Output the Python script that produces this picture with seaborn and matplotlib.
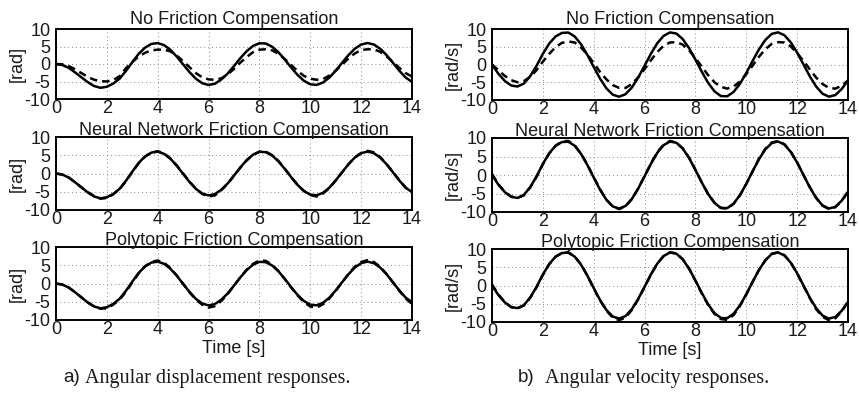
import numpy as np
import pandas as pd
import matplotlib
matplotlib.use("Agg")
import matplotlib.pyplot as plt
import seaborn as sns

time = np.arange(0, 14.001, 0.25)

disp_ref = [0, -0.3, -1.1, -2.4, -3.8, -5.2, -6.3, -6.8, -6.5, -5.6, -4.2, -2.0, 0.5, 2.9, 4.66,
            5.73, 5.98, 5.39, 4.04, 2.11, -0.11, -2.32, -4.20, -5.49, -6.0, -5.63, -4.44, -2.73,
            -0.57, 1.68, 3.68, 5.17, 5.93, 5.85, 4.93, 3.33, 1.24, -1.02, -3.13, -4.80, -5.79,
            -5.97, -5.29, -3.88, -1.90, 0.34, 2.52, 4.37, 5.56, 6.0, 5.57, 4.36, 2.53, 0.34,
            -1.90, -3.87, -5.1]
disp_nofric = [0, -0.1, -0.6, -1.5, -2.6, -3.7, -4.5, -4.9, -5.0, -4.6, -3.5, -1.2, 0.6, 2.1, 3.2,
               3.9, 4.1, 4.1, 3.6, 2.4, 0.8, -0.9, -2.6, -3.8, -4.4, -4.5, -4.1, -3.0, -1.4, 0.4,
               2.0, 3.4, 4.1, 4.2, 3.9, 2.9, 1.4, -0.3, -2.0, -3.4, -4.2, -4.5, -4.3, -3.3, -1.9,
               -0.2, 1.6, 3.0, 4.0, 4.2, 4.2, 3.5, 2.2, 0.6, -1.1, -2.6, -3.6]
disp_nn = [0, -0.3, -1.1, -2.4, -3.8, -5.1, -6.2, -6.9, -6.7, -5.7, -4.3, -2.1, 0.4, 2.8, 4.6,
           5.7, 6.1, 5.5, 4.1, 2.2, 0.0, -2.2, -4.2, -5.6, -6.3, -6.0, -4.6, -2.8, -0.6, 1.6,
           3.6, 5.1, 6.0, 6.0, 5.0, 3.4, 1.3, -1.0, -3.1, -4.8, -5.9, -6.3, -5.5, -4.0, -1.9,
           0.3, 2.5, 4.4, 5.6, 6.2, 5.8, 4.5, 2.6, 0.4, -1.8, -3.9, -5.1]
disp_poly = [0, -0.3, -1.1, -2.4, -3.8, -5.2, -6.3, -6.9, -6.8, -5.8, -4.4, -2.3, 0.3, 2.8, 4.7,
             5.9, 6.3, 5.7, 4.2, 2.2, -0.1, -2.4, -4.4, -5.8, -6.6, -6.2, -4.8, -2.9, -0.6, 1.7,
             3.8, 5.4, 6.3, 6.2, 5.1, 3.4, 1.2, -1.1, -3.3, -5.1, -6.3, -6.6, -5.7, -4.1, -2.0,
             0.3, 2.6, 4.6, 5.9, 6.4, 5.9, 4.6, 2.6, 0.3, -2.0, -4.1, -5.6]

vel_ref = [0, -2.6, -4.6, -5.9, -6.2, -5.4, -3.3, -0.4, 3.0, 5.9, 7.9, 8.9, 9.0, 7.92, 5.72,
           2.71, -0.69, -3.98, -6.72, -8.50, -9.08, -8.37, -6.48, -3.67, -0.34, 3.03, 6.00,
           8.08, 9.04, 8.72, 7.16, 4.61, 1.36, -2.04, -5.17, -7.56, -8.89, -8.95, -7.75, -5.44,
           -2.38, 1.03, 4.28, 6.93, 8.62, 9.06, 8.24, 6.23, 3.36, 0.0, -3.36, -6.23, -8.24,
           -9.07, -8.62, -6.94, -4.5]
vel_nofric = [0, -1.6, -3.2, -4.4, -5.0, -4.7, -3.5, -1.6, 0.8, 3.0, 4.9, 6.1, 6.5, 6.2, 4.8,
              2.8, 0.4, -2.1, -4.2, -5.8, -6.6, -6.6, -5.5, -3.6, -1.3, 1.2, 3.5, 5.3, 6.2, 6.3,
              5.6, 4.0, 1.8, -0.6, -3.0, -5.0, -6.3, -6.8, -6.2, -4.8, -2.7, -0.3, 2.2, 4.3, 5.8,
              6.3, 6.2, 5.1, 3.2, 1.0, -1.4, -3.7, -5.5, -6.6, -6.8, -6.0, -4.5]
vel_nn = [0.3, -2.5, -4.5, -5.8, -6.2, -5.5, -3.4, -0.5, 2.9, 5.8, 7.9, 9.1, 9.2, 8.0, 5.8,
          2.8, -0.6, -3.9, -6.7, -8.5, -9.2, -8.5, -6.5, -3.6, -0.3, 3.1, 6.2, 8.2, 9.2, 8.8,
          7.2, 4.7, 1.4, -2.0, -5.1, -7.5, -8.9, -9.1, -7.8, -5.5, -2.4, 1.0, 4.4, 7.1, 8.8,
          9.2, 8.3, 6.3, 3.4, 0.0, -3.3, -6.2, -8.3, -9.2, -8.7, -7.0, -4.6]
vel_poly = [0.3, -2.5, -4.5, -5.9, -6.3, -5.5, -3.4, -0.5, 2.9, 5.8, 7.9, 8.9, 9.1, 8.0, 5.8,
            2.7, -0.8, -4.1, -6.9, -8.8, -9.5, -8.8, -6.7, -3.8, -0.4, 3.0, 6.0, 8.1, 9.1, 8.8,
            7.2, 4.6, 1.3, -2.2, -5.3, -7.8, -9.2, -9.4, -8.1, -5.6, -2.5, 1.0, 4.3, 6.9, 8.7,
            9.1, 8.3, 6.3, 3.3, -0.1, -3.5, -6.5, -8.6, -9.5, -9.0, -7.1, -4.5]

titles = ["No Friction Compensation", "Neural Network Friction Compensation",
          "Polytopic Friction Compensation"]
y_ticks = [-10, -5, 0, 5, 10]
x_ticks = [0, 2, 4, 6, 8, 10, 12, 14]
ylabels = ["[rad]", "[rad/s]"]
xlabel = "Time [s]"
captions = ["Angular displacement responses.", "Angular velocity responses."]
caption_tags = ["a)", "b)"]

# ---- figure ----
sns.set_style("white")
plt.rcParams["font.family"] = ["Liberation Sans", "DejaVu Sans"]
W, H = 859, 398
fig = plt.figure(figsize=(W / 100, H / 100), dpi=100)

def px_axes(x0, y0, x1, y1):
    return fig.add_axes([x0 / W, 1 - y1 / H, (x1 - x0) / W, (y1 - y0) / H])

cols = [(56, 412), (492, 848)]
rows = [[(29, 99), (137, 210), (247, 320)], [(29, 100), (138, 212), (249, 322)]]
data = [[(disp_ref, disp_nofric), (disp_ref, disp_nn), (disp_ref, disp_poly)],
        [(vel_ref, vel_nofric), (vel_ref, vel_nn), (vel_ref, vel_poly)]]
title_pads = [3.5, 1.5, 1.5]

fs = 13
txt = "#1a1a1a"
for c in range(2):
    for r in range(3):
        x0, x1 = cols[c]
        y0, y1 = rows[c][r]
        ax = px_axes(x0, y0, x1, y1)
        ref, meas = data[c][r]
        df = pd.DataFrame({"t": np.concatenate([time, time]),
                           "v": np.concatenate([ref, meas]),
                           "s": ["ref"] * len(time) + ["meas"] * len(time)})
        sns.lineplot(data=df[df.s == "ref"], x="t", y="v", ax=ax, color="black",
                     lw=1.8, legend=False)
        sns.lineplot(data=df[df.s == "meas"], x="t", y="v", ax=ax, color="black",
                     lw=1.8, legend=False, linestyle=(0, (3, 2)))
        ax.set_xlim(0, 14)
        ax.set_ylim(-10, 10)
        ax.set_xticks(x_ticks)
        ax.set_yticks(y_ticks)
        ax.set_xticklabels([str(v) for v in x_ticks], fontsize=fs)
        ax.set_yticklabels([str(v) for v in y_ticks], fontsize=fs)
        ax.tick_params(axis="x", length=0, pad=0.5, colors=txt)
        ax.tick_params(axis="y", length=0, pad=4, colors=txt)
        ax.grid(True, linestyle=(0, (1, 3)), color="#888888", lw=0.7)
        for sp in ax.spines.values():
            sp.set_color("black")
            sp.set_linewidth(1.4)
            sp.set_visible(True)
        ax.set_title(titles[r], fontsize=fs, pad=title_pads[r], color=txt)
        ax.set_ylabel(ylabels[c], fontsize=fs, labelpad=-1, color=txt)
        if r == 2:
            ax.set_xlabel(xlabel, fontsize=fs, labelpad=2, color=txt)
        else:
            ax.set_xlabel("")

tag_x = [63, 518]
cap_x = [85, 545]
for c in range(2):
    fig.text(tag_x[c] / W, 1 - 378 / H, caption_tags[c], ha="left", va="center",
             fontsize=13.5, family=["Liberation Sans"], color=txt)
    fig.text(cap_x[c] / W, 1 - 378 / H, captions[c], ha="left", va="center",
             fontsize=14.5, family=["Liberation Serif"], color=txt)

fig.savefig("out.png", dpi=100)
